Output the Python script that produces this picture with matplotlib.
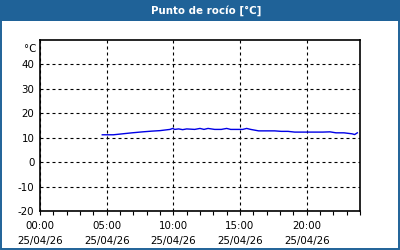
import matplotlib
matplotlib.use("Agg")
import matplotlib.pyplot as plt
from matplotlib.patches import Rectangle

title = "Punto de rocío [°C]"
hours = [4.67, 5.5, 6.2, 6.9, 7.7, 8.4, 9.0, 9.75, 9.95, 10.1, 10.4, 10.7, 11.0,
         11.6, 12.0, 12.3, 12.6, 13.1, 13.6, 14.0, 14.3, 14.8, 15.2, 15.5, 15.8,
         16.4, 17.0, 17.6, 18.1, 18.6, 19.1, 19.6, 20.0, 20.6, 21.2, 21.75,
         22.2, 22.8, 23.4, 23.6, 23.8]
values = [11.2, 11.2, 11.6, 12.0, 12.4, 12.7, 12.9, 13.4, 13.8, 13.4, 13.6, 13.3, 13.6,
          13.4, 13.8, 13.4, 13.8, 13.4, 13.4, 13.8, 13.4, 13.4, 13.4, 13.8, 13.4,
          12.8, 12.8, 12.8, 12.6, 12.6, 12.3, 12.3, 12.3, 12.3, 12.3, 12.4,
          12.0, 12.0, 11.6, 11.3, 12.0]
yticks = [-20, -10, 0, 10, 20, 30, 40]
xticks = [0, 5, 10, 15, 20]
xticklabels = ["00:00\n25/04/26", "05:00\n25/04/26", "10:00\n25/04/26",
               "15:00\n25/04/26", "20:00\n25/04/26"]

blue = "#1f6298"
plt.rcParams['font.family'] = ['DejaVu Sans']
fig = plt.figure(figsize=(4, 2.5), dpi=100)
fig.patch.set_facecolor("white")

# title bar and border
fig.patches.append(Rectangle((0, 1 - 21 / 250), 1, 21 / 250, transform=fig.transFigure,
                             facecolor=blue, edgecolor="none", zorder=0))
fig.patches.append(Rectangle((0.5 / 400, 1 / 250), 1 - 1.5 / 400, 1 - 1.5 / 250,
                             transform=fig.transFigure, facecolor="none",
                             edgecolor=blue, linewidth=1.4, zorder=1))
fig.text(206.5 / 400, 1 - 10.5 / 250, title, color="white", fontsize=7.4,
         fontweight="bold", ha="center", va="center")

ax = fig.add_axes([40 / 400, 1 - 211 / 250, 320 / 400, 171 / 250])
ax.plot(hours, values, color="#0000e6", linewidth=1.0, zorder=3)
ax.set_xlim(0, 24)
ax.set_ylim(-20, 50)
ax.set_yticks(yticks)
ax.set_yticklabels([str(t) for t in yticks])
ax.set_xticks(xticks)
ax.set_xticklabels(xticklabels, linespacing=1.7)
ax.set_xticks(range(0, 25), minor=True)
ax.tick_params(axis="y", length=0, pad=4, labelsize=7.4)
ax.tick_params(axis="x", which="major", length=3, width=0.8, pad=4, labelsize=7.4)
ax.tick_params(axis="x", which="minor", length=3, width=0.8)
ax.grid(True, which="major", color="black", linestyle=(0, (2.7, 2.7)), linewidth=0.8)
for s in ax.spines.values():
    s.set_linewidth(1.2)
ax.text(-4 / 320, 46.5, "°C", transform=ax.get_yaxis_transform(), ha="right",
        va="center", fontsize=7.4)

fig.savefig("out.png", dpi=100)
